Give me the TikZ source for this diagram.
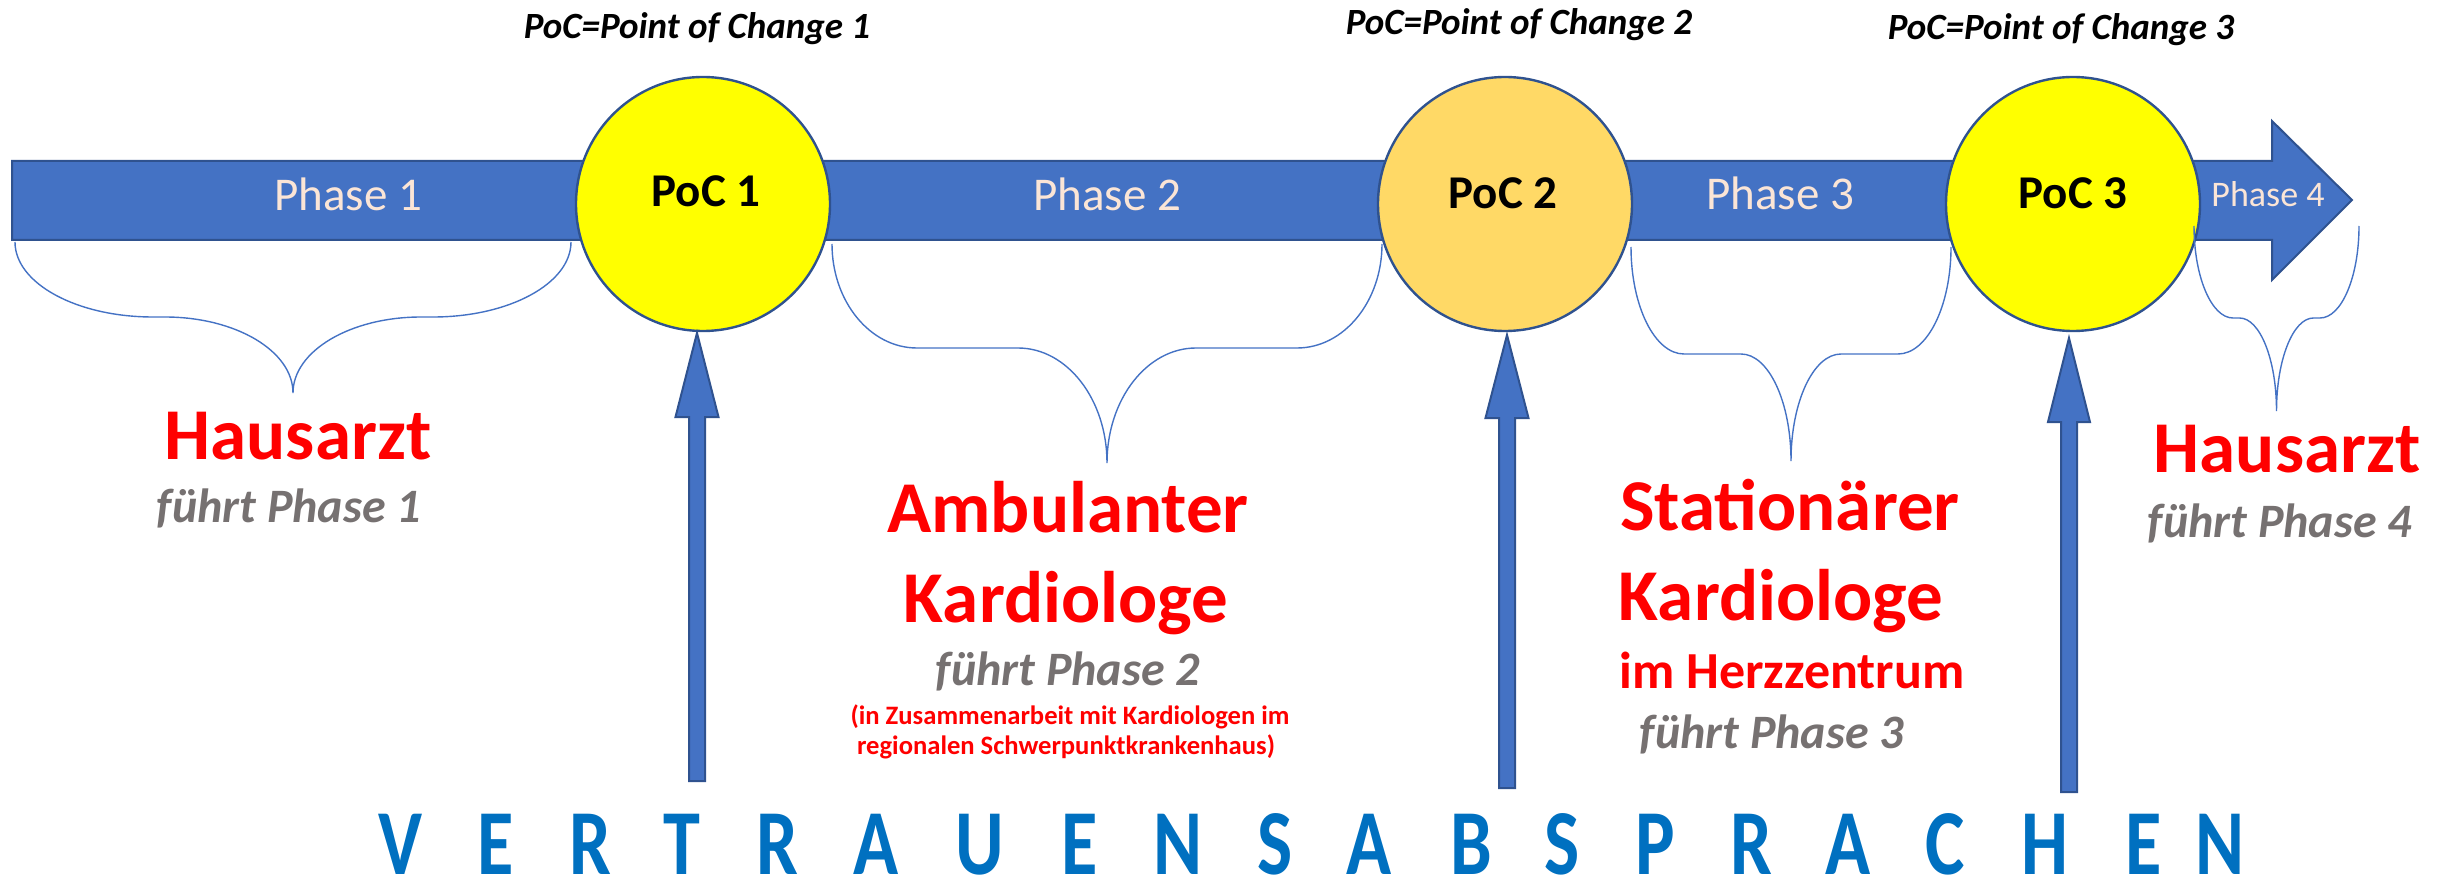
\documentclass[tikz,border=0pt]{standalone}
\usepackage{fontspec}
\setmainfont{Carlito}
\definecolor{barblue}{HTML}{4472C4}
\definecolor{edgeblue}{HTML}{2F528F}
\definecolor{pocyellow}{HTML}{FFFF00}
\definecolor{pocorange}{HTML}{FFD966}
\definecolor{phasetext}{HTML}{FBE5D6}
\definecolor{leadred}{HTML}{FF0000}
\definecolor{leadgrey}{HTML}{767171}
\definecolor{wordblue}{HTML}{0070C0}
\newcommand\fsz[1]{\fontsize{#1pt}{#1pt}\selectfont}
\newcommand\phasebrace[7]{%
 \draw[bracestyle] (#1,#3) .. controls (#1,{#3+0.5523*(#4-#3)}) and ({#1+0.4477*#6},#4) .. ({#1+#6},#4)
 -- ({(#1+#2)/2-#7},#4) .. controls ({(#1+#2)/2-0.4477*#7},#4) and ({(#1+#2)/2},{#5-0.5523*(#5-#4)}) .. ({(#1+#2)/2},#5)
 .. controls ({(#1+#2)/2},{#5-0.5523*(#5-#4)}) and ({(#1+#2)/2+0.4477*#7},#4) .. ({(#1+#2)/2+#7},#4)
 -- ({#2-#6},#4) .. controls ({#2-0.4477*#6},#4) and (#2,{#3+0.5523*(#4-#3)}) .. (#2,#3);}
\newcommand\riser[5]{%
 \draw[risestyle] ({#1-8},#4) -- ({#1-8},#3) -- ({#1-#5},#3) -- (#1,#2) -- ({#1+#5},#3) -- ({#1+8},#3) -- ({#1+8},#4) -- cycle;}
\begin{document}
\begin{tikzpicture}[x=0.5pt,y=-0.5pt,
  barstyle/.style={fill=barblue,draw=edgeblue,line width=1pt},
  pocball/.style={circle,minimum size=127pt,inner sep=0pt,draw=edgeblue,line width=1.2pt},
  risestyle/.style={fill=barblue,draw=edgeblue,line width=1pt},
  bracestyle/.style={draw=barblue,line width=0.7pt},
  txt/.style={anchor=base,inner sep=0pt},
  phaselbl/.style={txt,text=phasetext,font=\fsz{23.5}},
  poclbl/.style={txt,text=black,font=\bfseries\fsz{23.5}},
  titlelbl/.style={txt,text=black,font=\bfseries\itshape\fsz{18.5}},
  leadbig/.style={txt,text=leadred,font=\bfseries\fsz{36.5}},
  leadmid/.style={txt,text=leadred,font=\bfseries\fsz{26}},
  leadsmall/.style={txt,text=leadred,font=\bfseries\fsz{13.3}},
  leadsub/.style={txt,text=leadgrey,font=\bfseries\itshape\fsz{24}},
  wordlbl/.style={txt,text=wordblue,font=\bfseries\fsz{46.5}}]
\useasboundingbox (0,0) rectangle (2443,882);
% main arrow bar
\draw[barstyle] (12,161) -- (2272,161) -- (2272,121) -- (2352,200) -- (2272,280) -- (2272,240) -- (12,240) -- cycle;
% points of change
\node[pocball,fill=pocyellow] (p1) at (703,204) {};
\node[pocball,fill=pocorange] (p2) at (1505,204) {};
\node[pocball,fill=pocyellow] (p3) at (2073,204) {};
\node[poclbl] (p1t) at (706,207) {PoC 1};
\node[poclbl] (p2t) at (1503,209) {PoC 2};
\node[poclbl] (p3t) at (2073,209) {PoC 3};
% phase labels
\node[phaselbl] (ph1) at (348,211) {Phase 1};
\node[phaselbl] (ph2) at (1107,211) {Phase 2};
\node[phaselbl] (ph3) at (1780,210) {Phase 3};
\node[phaselbl,font=\fsz{18}] (ph4) at (2268,207) {Phase 4};
% titles
\node[titlelbl] (t1) at (697,39) {PoC=Point of Change 1};
\node[titlelbl] (t2) at (1519,35) {PoC=Point of Change 2};
\node[titlelbl] (t3) at (2061,40) {PoC=Point of Change 3};
% braces
\phasebrace{15}{571}{242}{317}{393}{138}{128}
\phasebrace{832}{1382}{244}{348}{463}{85}{89}
\phasebrace{1631}{1951}{247}{354}{461}{53}{50}
\phasebrace{2194}{2359}{226}{318}{411}{39}{37}
% risers
\riser{697}{333}{417}{781}{21.5}
\riser{1507}{335}{418}{788}{21.5}
\riser{2069}{338}{422}{792}{21}
% lead texts
\node[leadbig] (h1) at (298,459) {Hausarzt};
\node[leadsub] (h1s) at (289,522) {führt Phase 1};
\node[leadbig] (a1) at (1068,532) {Ambulanter};
\node[leadbig] (a2) at (1066,622) {Kardiologe};
\node[leadsub] (a3) at (1068,685) {führt Phase 2};
\node[leadsmall] (a4) at (1070,724) {(in Zusammenarbeit mit Kardiologen im};
\node[leadsmall] (a5) at (1066,754) {regionalen Schwerpunktkrankenhaus)};
\node[leadbig] (s1) at (1790,530) {Stationärer};
\node[leadbig] (s2) at (1781,620) {Kardiologe};
\node[leadmid] (s3) at (1792,688) {im Herzzentrum};
\node[leadsub] (s4) at (1772,748) {führt Phase 3};
\node[leadbig] (h4) at (2287,473) {Hausarzt};
\node[leadsub] (h4s) at (2280,537) {führt Phase 4};
% bottom word
\foreach \l/\x [count=\i] in {V/400,E/496,R/590,T/682,R/777,A/876,U/980,E/1080,N/1178,S/1275,A/1369,B/1471,S/1562,P/1655,R/1751,A/1848,C/1945,H/2045,E/2144,N/2220}
  \node[wordlbl] (w\i) at (\x,874) {\scalebox{0.8}[1]{\l}};
\end{tikzpicture}
\end{document}
